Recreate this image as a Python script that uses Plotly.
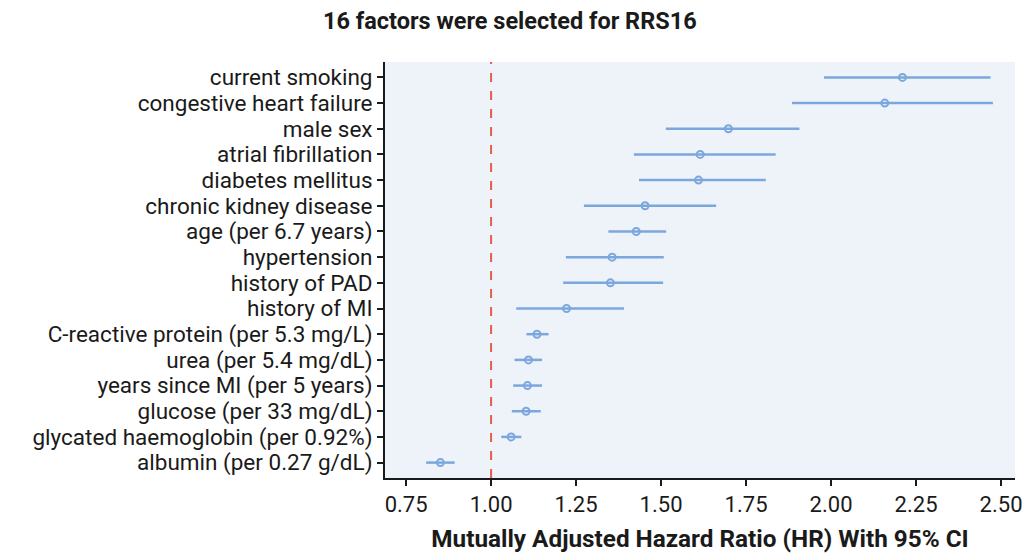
import plotly.graph_objects as go

factors = [
    "current smoking", "congestive heart failure", "male sex", "atrial fibrillation",
    "diabetes mellitus", "chronic kidney disease", "age (per 6.7 years)", "hypertension",
    "history of PAD", "history of MI", "C-reactive protein (per 5.3 mg/L)",
    "urea (per 5.4 mg/dL)", "years since MI (per 5 years)", "glucose (per 33 mg/dL)",
    "glycated haemoglobin (per 0.92%)", "albumin (per 0.27 g/dL)",
]
hr = [2.210, 2.158, 1.698, 1.615, 1.610, 1.453, 1.427, 1.356,
      1.351, 1.222, 1.135, 1.110, 1.107, 1.103, 1.059, 0.851]
ci_low = [1.979, 1.885, 1.514, 1.420, 1.435, 1.273, 1.345, 1.220,
          1.212, 1.074, 1.104, 1.069, 1.065, 1.061, 1.030, 0.809]
ci_high = [2.469, 2.476, 1.907, 1.837, 1.808, 1.662, 1.515, 1.508,
           1.506, 1.391, 1.169, 1.150, 1.150, 1.146, 1.089, 0.893]
x_ticks = [0.75, 1.00, 1.25, 1.50, 1.75, 2.00, 2.25, 2.50]
x_tick_labels = ["0.75", "1.00", "1.25", "1.50", "1.75", "2.00", "2.25", "2.50"]

err_plus = [h - m for h, m in zip(ci_high, hr)]
err_minus = [m - l for m, l in zip(hr, ci_low)]

blue = "#7BA7DD"
ink = "#1a1a1a"
ff = "Roboto, Lato, sans-serif"

fig = go.Figure()
fig.add_trace(go.Scatter(
    x=hr, y=factors, mode="markers",
    marker=dict(symbol="circle-open", size=7, color=blue, line=dict(width=2, color=blue)),
    error_x=dict(type="data", symmetric=False, array=err_plus, arrayminus=err_minus,
                 color=blue, thickness=2.5, width=0),
    showlegend=False, hoverinfo="skip",
))

fig.add_shape(type="line", x0=1, x1=1, y0=0, y1=1, xref="x", yref="paper",
              line=dict(color="#E0604A", width=2, dash="dash"))

fig.update_layout(
    width=1030, height=556,
    margin=dict(l=385, r=15, t=62, b=78),
    paper_bgcolor="white",
    plot_bgcolor="#EEF3FA",
    title=dict(text="<b>16 factors were selected for RRS16</b>", x=0.495, xanchor="center",
               xref="container", y=0.962, yref="container", yanchor="middle",
               font=dict(family=ff, size=23.5, color=ink)),
    font=dict(family=ff, color=ink),
)
fig.update_xaxes(
    range=[0.688, 2.541], tickvals=x_ticks, ticktext=x_tick_labels,
    showgrid=False, zeroline=False, showline=True, linecolor=ink, linewidth=2,
    ticks="outside", ticklen=6, tickwidth=2, tickcolor=ink, automargin=False,
    tickfont=dict(family=ff, size=22, color=ink),
    title=dict(text="<b>Mutually Adjusted Hazard Ratio (HR) With 95% CI</b>",
               font=dict(family=ff, size=24.3, color=ink), standoff=14),
)
fig.update_yaxes(
    categoryorder="array", categoryarray=factors[::-1],
    tickmode="array", tickvals=factors, ticktext=factors,
    range=[-0.6, 15.6], automargin=False,
    showgrid=False, zeroline=False, showline=True, linecolor=ink, linewidth=2,
    ticks="outside", ticklen=6, tickwidth=2, tickcolor=ink,
    tickfont=dict(family=ff, size=22.5, color=ink),
)

fig.write_html("out.html", config={"displayModeBar": False},
               post_script="document.body.style.margin='0';")
